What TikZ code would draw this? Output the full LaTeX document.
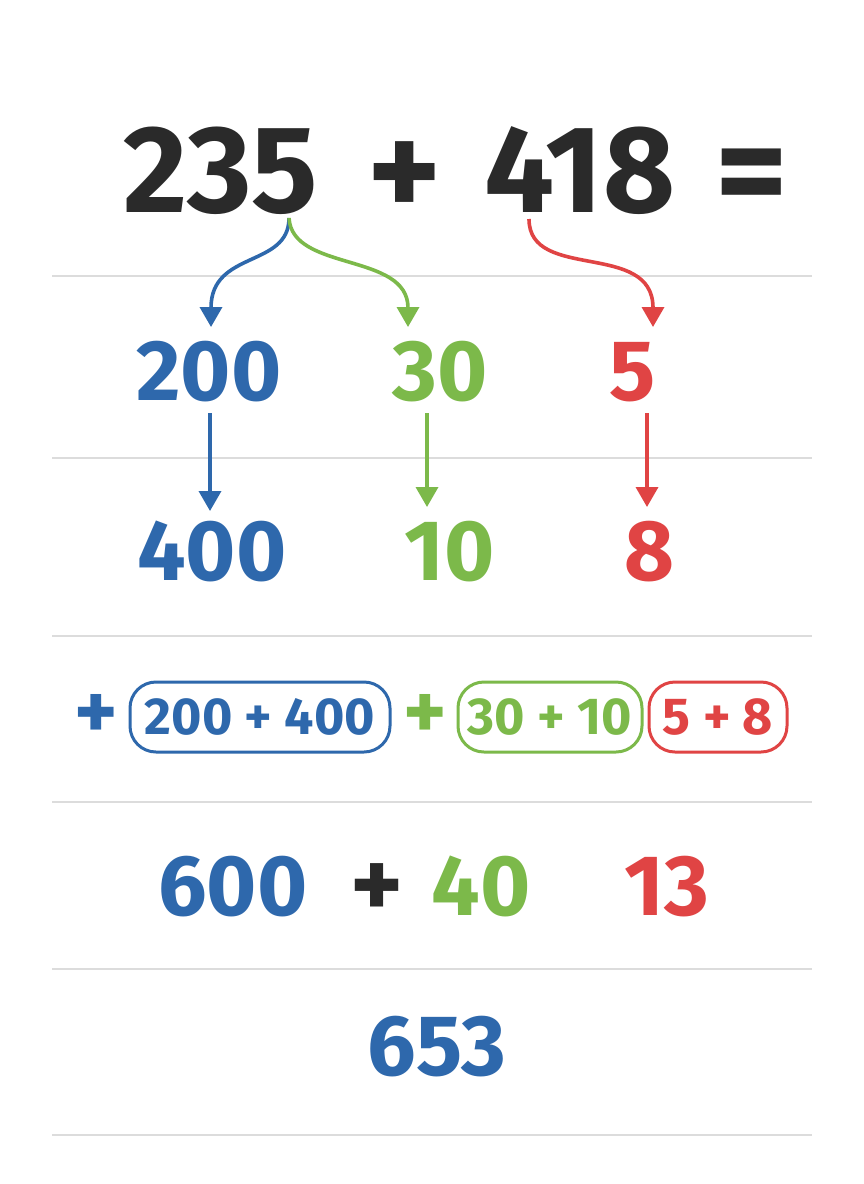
\documentclass[tikz,border=0pt]{standalone}
\usepackage{fontspec}
\setmainfont{Fira Sans}
\usetikzlibrary{arrows.meta}
\definecolor{cblue}{HTML}{2E68AC}
\definecolor{cgreen}{HTML}{7CB94A}
\definecolor{cred}{HTML}{E04444}
\definecolor{cdark}{HTML}{2A2A2A}
\definecolor{cline}{HTML}{DCDCDC}
\tikzset{
  num/.style={inner sep=0pt, anchor=base, font=\fontsize{#1}{#1}\selectfont\bfseries},
  big/.style={num=124},
  mid/.style={num=86},
  rule/.style={draw=cline, line width=1.5pt},
  arr/.style={line width=3.6pt, -{Triangle[width=22pt,length=20pt]}},
  sumbox/.style={draw=#1, line width=3pt, rounded corners=26pt, minimum height=70pt, inner sep=0pt, text=#1, font=\fontsize{52}{52}\selectfont\bfseries}
}
\begin{document}
\begin{tikzpicture}[x=1pt,y=-1pt]
\fill[white] (0,0) rectangle (864,1184);
\useasboundingbox (0,0) rectangle (864,1184);

% rules
\foreach \yy in {276,458,636,802,969,1135}
  \draw[rule] (52,\yy) -- (812,\yy);

% title
\node[big, text=cdark] (n235) at (221,212) {235};
\node[num=140, text=cdark] (tplus) at (405,218) {+};
\node[big, text=cdark] (n418) at (580,212) {418};
\node[num=140, text=cdark] (teq) at (752,218) {=};
\coordinate (s5) at (289,218);
\coordinate (s4) at (529,219);

% row 2
\node[mid, text=cblue] (h200) at (209,400) {200};
\node[mid, text=cgreen] (t30) at (440,400) {30};
\node[mid, text=cred] (u5) at (633,400) {5};
\coordinate (a200) at (211,327);
\coordinate (a30) at (408,327);
\coordinate (a5) at (653,327);

\draw[arr, cblue] (s5) .. controls (289,268) and (211,250) .. (a200);
\draw[arr, cgreen] (s5) .. controls (292,272) and (408,252) .. (a30);
\draw[arr, cred] (s4) .. controls (529,282) and (653,240) .. (a5);

% row 3
\node[mid, text=cblue] (h400) at (212,580) {400};
\node[mid, text=cgreen] (t10) at (450,580) {10};
\node[mid, text=cred] (u8) at (649,580) {8};
\coordinate (b200) at (210,413);
\coordinate (b30) at (427,413);
\coordinate (b5) at (647,413);
\coordinate (c400) at (210,511);
\coordinate (c10) at (427,507);
\coordinate (c8) at (647,507);
\draw[arr, cblue] (b200) -- (c400);
\draw[arr, cgreen] (b30) -- (c10);
\draw[arr, cred] (b5) -- (c8);

% row 4
\node[num=82, text=cblue, anchor=center] (p1) at (96,717) {+};
\node[sumbox=cblue, minimum width=260pt] (bx1) at (260,717) {200 + 400};
\node[num=82, text=cgreen, anchor=center] (p2) at (425,717) {+};
\node[sumbox=cgreen, minimum width=184pt] (bx2) at (550,717) {30 + 10};
\node[sumbox=cred, minimum width=138pt] (bx3) at (718,717) {5 + 8};

% row 5
\node[mid, text=cblue] (r600) at (233,915) {600};
\node[num=100, text=cdark] (r5plus) at (377,918) {+};
\node[mid, text=cgreen] (r40) at (481,915) {40};
\node[mid, text=cred] (r13) at (667,915) {13};

% row 6
\node[mid, text=cblue] (res) at (437,1075) {653};
\end{tikzpicture}
\end{document}
